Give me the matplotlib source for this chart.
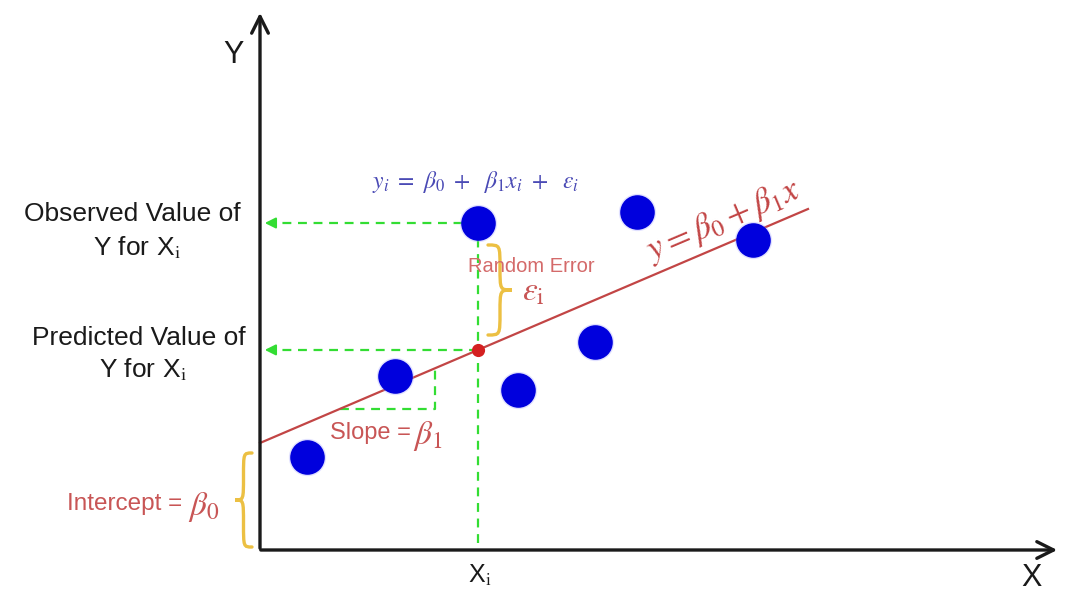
import numpy as np
import matplotlib
matplotlib.use("Agg")
import matplotlib.pyplot as plt
from matplotlib.path import Path
from matplotlib.patches import PathPatch

plt.rcParams['font.family'] = ['Liberation Sans', 'DejaVu Sans']
plt.rcParams['mathtext.fontset'] = 'stix'

# observed points (x, y) in chart units, origin at the axes corner
pts_x = [47, 135, 218, 258, 335, 377, 493]
pts_y = [93, 174, 327, 160, 208, 338, 310]

# regression line
b0 = 107.0      # intercept
b1 = 0.427      # slope
line_x = [0, 548]

# highlighted observation X_i
xi = 218
yi_obs = 327

# slope triangle legs
tri_x = [80, 175]

# colours
blue = '#0000dd'
red = '#c24545'
red_txt = '#c85555'
green = '#33dd33'
gold = '#ecc043'
dark = '#1a1a1a'


def brace(ax, x, y0, y1, depth, color, lw=2.4):
    """curly brace between y0 and y1, ends at x, tip at x+depth"""
    ym = (y0 + y1) / 2
    h = y1 - y0
    xm = x + depth / 2
    xt = x + depth
    verts = [(x, y0), (xm, y0), (xm, y0), (xm, y0 + 0.25 * h),
             (xm, ym), (xm, ym), (xt, ym),
             (xm, ym), (xm, ym), (xm, y1 - 0.25 * h),
             (xm, y1), (xm, y1), (x, y1)]
    codes = [Path.MOVETO] + [Path.CURVE4] * 12
    ax.add_patch(PathPatch(Path(verts, codes), fill=False, edgecolor=color,
                           lw=lw, capstyle='round', zorder=3))


fig = plt.figure(figsize=(10.8, 6.02), dpi=100)
ax = fig.add_axes([0, 0, 1, 1])
ax.set_xlim(-260, 820)
ax.set_ylim(-52, 550)
ax.axis('off')

'''eixos com setas'''
ax.annotate('', xy=(800, 0), xytext=(-2, 0),
            arrowprops=dict(arrowstyle='->', color=dark, lw=2.4, mutation_scale=30))
ax.annotate('', xy=(0, 540), xytext=(0, -1),
            arrowprops=dict(arrowstyle='->', color=dark, lw=2.4, mutation_scale=30))
ax.text(-26, 495, 'Y', fontsize=22, color=dark, ha='center', va='center')
ax.text(771, -28, 'X', fontsize=22, color=dark, ha='center', va='center')
ax.text(220, -25, r'X$_{\mathrm{i}}$', fontsize=18, color=dark, ha='center', va='center')

'''reta de regressao'''
lx = np.array(line_x)
ax.plot(lx, b0 + b1 * lx, color=red, lw=1.6, zorder=2)

'''linhas verdes tracejadas'''
y_pred = b0 + b1 * xi
for yy in [yi_obs, y_pred]:
    ax.plot([xi, 12], [yy, yy], color=green, lw=1.6, ls=(0, (4, 3)), zorder=1)
    ax.annotate('', xy=(2, yy), xytext=(14, yy),
                arrowprops=dict(arrowstyle='-|>', color=green, lw=1.5, mutation_scale=16))
ax.plot([xi, xi], [yi_obs, 0], color=green, lw=1.6, ls=(0, (4, 3)), zorder=1)

tx = np.array(tri_x)
ty = b0 + b1 * tx
ax.plot([tx[0], tx[1], tx[1]], [ty[0], ty[0], ty[1]], color=green, lw=1.6,
        ls=(0, (4, 3)), zorder=1)

'''pontos'''
ax.scatter(pts_x, pts_y, s=720, color='#9a9aff', alpha=0.3, lw=0, zorder=4)
ax.scatter(pts_x, pts_y, s=620, color=blue, lw=0, zorder=5)
ax.scatter([xi], [y_pred], s=90, color='#d42020', lw=0, zorder=6)

'''chaves'''
brace(ax, 228, 305, 215, 24, gold)
brace(ax, -8, 3, 97, -17, gold)

'''textos'''
ax.text(-128, 336, 'Observed Value of', fontsize=19, color=dark, ha='center', va='center')
ax.text(-123, 302, r'Y for X$_{\mathrm{i}}$', fontsize=19, color=dark, ha='center', va='center')
ax.text(-121, 212, 'Predicted Value of', fontsize=19, color=dark, ha='center', va='center')
ax.text(-117, 180, r'Y for X$_{\mathrm{i}}$', fontsize=19, color=dark, ha='center', va='center')

ax.text(-78, 46, 'Intercept =', fontsize=17.5, color=red_txt, ha='right', va='center')
ax.text(-72, 43, r'$\beta_0$', fontsize=24, color=red_txt, ha='left', va='center')
ax.text(70, 117, 'Slope =', fontsize=17, color=red_txt, ha='left', va='center')
ax.text(153, 114, r'$\beta_1$', fontsize=24, color=red_txt, ha='left', va='center')

ax.text(208, 283, 'Random Error', fontsize=14.5, color='#d46a6a', ha='left', va='center')
ax.text(262, 258, r'$\varepsilon_{\mathrm{i}}$', fontsize=24, color=red_txt, ha='left', va='center')

ax.text(112, 368, r'$y_i\ =\ \beta_0\ +\ \ \beta_1 x_i\ +\ \ \varepsilon_i$', fontsize=17,
        color='#4a4ab5', ha='left', va='center')
ax.text(464, 330, r'$y = \beta_0 + \beta_1 x$', fontsize=25, color=red,
        ha='center', va='center', rotation=23, rotation_mode='anchor')

fig.savefig('out.png', dpi=100, facecolor='white')
